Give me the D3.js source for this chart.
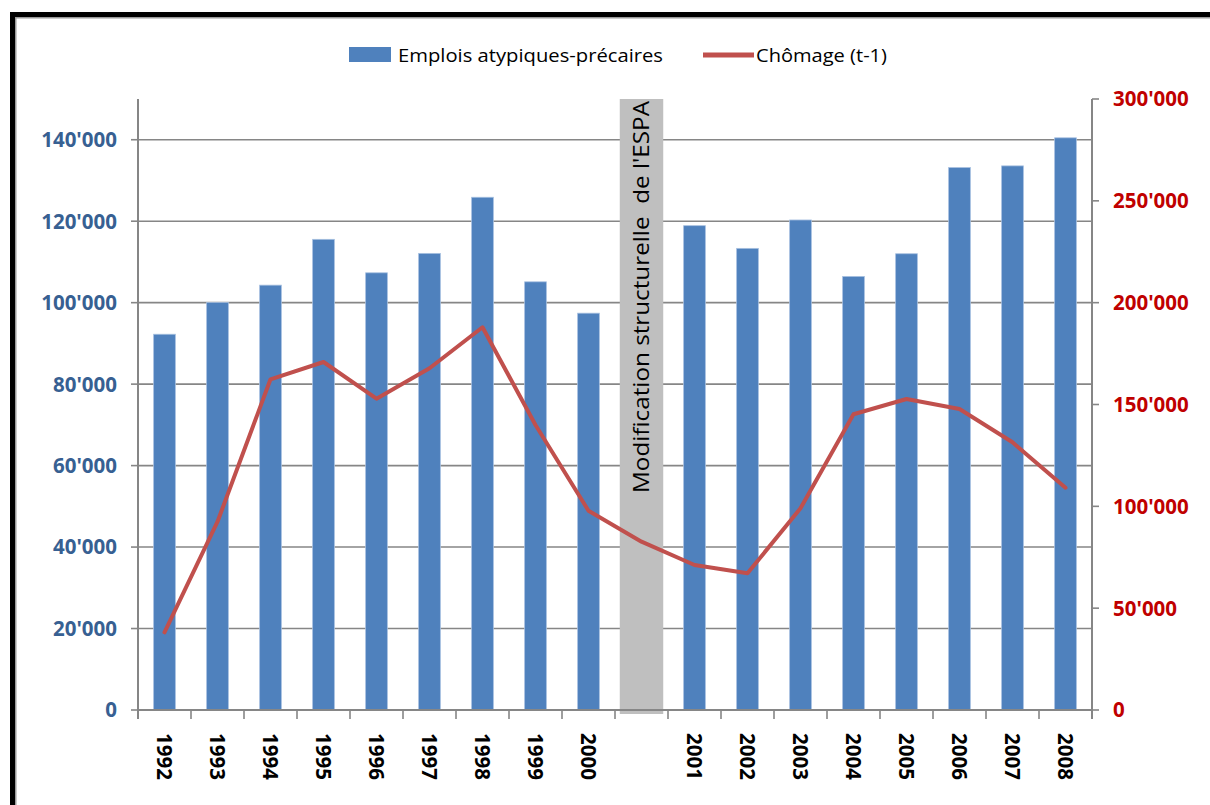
<!DOCTYPE html>
<html>
<head>
<meta charset="utf-8">
<script src="https://cdn.jsdelivr.net/npm/d3@7"></script>
<style>
  body { margin: 0; background: #fff; }
  svg { display: block; }
</style>
</head>
<body>
<svg id="chart" width="1210" height="805"></svg>
<script>
// Categories: one empty slot marks the structural break (ESPA revision)
const years = ["1992", "1993", "1994", "1995", "1996", "1997", "1998", "1999", "2000", "",
               "2001", "2002", "2003", "2004", "2005", "2006", "2007", "2008"];
// Atypical / precarious jobs (left axis)
const emploisPrecaires = [92250, 100050, 104300, 115550, 107330, 112100, 125880, 105120, 97420, null,
                          118900, 113330, 120300, 106440, 112010, 133170, 133580, 140470];
// Unemployment, previous year (right axis)
const chomageT1 = [38150, 92460, 162380, 170870, 152860, 167780, 187910, 139940, 97860, 82640,
                   71200, 67120, 99040, 145190, 152700, 147800, 131440, 109150];
const leftTicks = [0, 20000, 40000, 60000, 80000, 100000, 120000, 140000];
const rightTicks = [0, 50000, 100000, 150000, 200000, 250000, 300000];
const seriesNames = ["Emplois atypiques-précaires", "Chômage (t-1)"];
const breakCategory = "";
const breakLabel = "Modification structurelle  de l'ESPA";

const W = 1210, H = 805;
const m = { left: 138, right: 118, top: 99, bottom: 95 };
const x0 = m.left, x1 = W - m.right, y0 = H - m.bottom, y1 = m.top;

const svg = d3.select("#chart");
const fmt = d3.formatLocale({ decimal: ".", thousands: "'", grouping: [3], currency: ["", ""] }).format(",");

const x = d3.scaleBand().domain(years).range([x0, x1]).padding(0);
const yL = d3.scaleLinear().domain([0, 150000]).range([y0, y1]);
const yR = d3.scaleLinear().domain([0, 300000]).range([y0, y1]);

const gridColor = "#868686";
const blue = "#4F81BD", red = "#C0504D";

// Frame
svg.append("rect").attr("x", 10).attr("y", 12).attr("width", W - 10).attr("height", 5).attr("fill", "#000");
svg.append("rect").attr("x", 10).attr("y", 12).attr("width", 5).attr("height", H - 12).attr("fill", "#000");
svg.append("rect").attr("x", 15).attr("y", 17).attr("width", W - 15).attr("height", 1.5).attr("fill", "#9a9a9a");
svg.append("rect").attr("x", 15).attr("y", 17).attr("width", 1.5).attr("height", H - 17).attr("fill", "#9a9a9a");

// Horizontal gridlines from the left axis
svg.append("g").selectAll("line").data(leftTicks.filter(d => d > 0)).join("line")
  .attr("x1", x0).attr("x2", x1)
  .attr("y1", d => yL(d)).attr("y2", d => yL(d))
  .attr("stroke", gridColor).attr("stroke-width", 1.6);

// Bars
const bw = x.bandwidth() * 0.41;
svg.append("g").selectAll("rect")
  .data(years.map((c, i) => ({ c, v: emploisPrecaires[i] })).filter(d => d.v != null))
  .join("rect")
  .attr("x", d => x(d.c) + x.bandwidth() / 2 - bw / 2)
  .attr("width", bw)
  .attr("y", d => yL(d.v))
  .attr("height", d => yL(0) - yL(d.v))
  .attr("fill", blue)
  .attr("stroke", "#a7c0e0").attr("stroke-width", 0.8);

// Structural break band
const bandW = x.bandwidth() * 0.82;
const bandCx = x(breakCategory) + x.bandwidth() / 2;
svg.append("rect")
  .attr("x", bandCx - bandW / 2).attr("width", bandW)
  .attr("y", y1).attr("height", y0 - y1 + 4)
  .attr("fill", "#BFBFBF");
svg.append("text")
  .attr("transform", `translate(${bandCx + 7},${493}) rotate(-90)`)
  .attr("font-family", "'Open Sans', sans-serif")
  .attr("font-size", 21)
  .attr("fill", "#000")
  .attr("textLength", 392).attr("lengthAdjust", "spacingAndGlyphs")
  .style("white-space", "pre")
  .text(breakLabel);

// Axes lines
svg.append("line").attr("x1", x0).attr("x2", x1).attr("y1", y0).attr("y2", y0)
  .attr("stroke", gridColor).attr("stroke-width", 2);
svg.append("line").attr("x1", x0).attr("x2", x0).attr("y1", y1).attr("y2", y0 + 9)
  .attr("stroke", gridColor).attr("stroke-width", 2);
svg.append("line").attr("x1", x1).attr("x2", x1).attr("y1", y1).attr("y2", y0 + 9)
  .attr("stroke", gridColor).attr("stroke-width", 2);

// X ticks at category boundaries
const bounds = years.map(c => x(c)).concat([x1]);
svg.append("g").selectAll("line").data(bounds).join("line")
  .attr("x1", d => d).attr("x2", d => d).attr("y1", y0).attr("y2", y0 + 9)
  .attr("stroke", gridColor).attr("stroke-width", 1.6);

// Left ticks
svg.append("g").selectAll("line").data(leftTicks).join("line")
  .attr("x1", x0 - 7).attr("x2", x0).attr("y1", d => yL(d)).attr("y2", d => yL(d))
  .attr("stroke", gridColor).attr("stroke-width", 1.6);
svg.append("g").selectAll("text").data(leftTicks).join("text")
  .attr("x", 117).attr("y", d => yL(d)).attr("dy", "0.36em")
  .attr("text-anchor", "end")
  .attr("font-family", "'Open Sans', sans-serif").attr("font-weight", 700).attr("font-size", 20.5)
  .attr("fill", "#376092")
  .text(d => fmt(d));

// Right ticks
svg.append("g").selectAll("line").data(rightTicks).join("line")
  .attr("x1", x1).attr("x2", x1 + 7).attr("y1", d => yR(d)).attr("y2", d => yR(d))
  .attr("stroke", gridColor).attr("stroke-width", 1.6);
svg.append("g").selectAll("text").data(rightTicks).join("text")
  .attr("x", 1113).attr("y", d => yR(d)).attr("dy", "0.36em")
  .attr("text-anchor", "start")
  .attr("font-family", "'Open Sans', sans-serif").attr("font-weight", 700).attr("font-size", 20.5)
  .attr("fill", "#C00000")
  .text(d => fmt(d));

// Year labels, rotated
svg.append("g").selectAll("text").data(years.filter(c => c !== "")).join("text")
  .attr("transform", d => `translate(${x(d) + x.bandwidth() / 2},733) rotate(90)`)
  .attr("dy", "0.36em")
  .attr("text-anchor", "start")
  .attr("font-family", "'Open Sans', sans-serif").attr("font-weight", 700).attr("font-size", 20.5)
  .attr("fill", "#000")
  .text(d => d);

// Unemployment line
const line = d3.line()
  .x((d, i) => x(years[i]) + x.bandwidth() / 2)
  .y(d => yR(d));
svg.append("path").datum(chomageT1)
  .attr("d", line)
  .attr("fill", "none").attr("stroke", red).attr("stroke-width", 4)
  .attr("stroke-linejoin", "round").attr("stroke-linecap", "round");

// Legend
const lg = svg.append("g").attr("font-family", "'Open Sans', sans-serif").attr("font-size", 19).attr("fill", "#000");
lg.append("rect").attr("x", 349).attr("y", 47).attr("width", 42).attr("height", 15).attr("fill", blue);
lg.append("text").attr("x", 398).attr("y", 55).attr("dy", "0.35em")
  .attr("textLength", 265).attr("lengthAdjust", "spacingAndGlyphs").text(seriesNames[0]);
lg.append("line").attr("x1", 703).attr("x2", 754).attr("y1", 55).attr("y2", 55)
  .attr("stroke", red).attr("stroke-width", 5);
lg.append("text").attr("x", 756).attr("y", 55).attr("dy", "0.35em")
  .attr("textLength", 131).attr("lengthAdjust", "spacingAndGlyphs").text(seriesNames[1]);
</script>
</body>
</html>
